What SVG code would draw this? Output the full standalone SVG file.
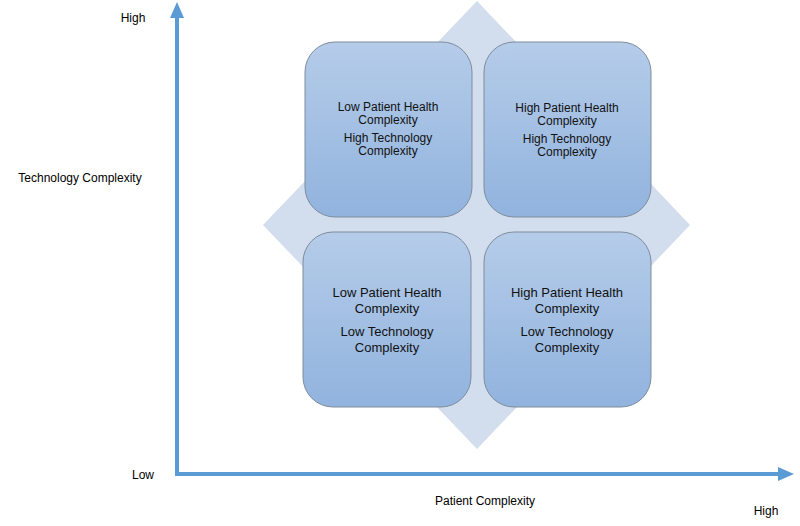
<svg xmlns="http://www.w3.org/2000/svg" width="800" height="526" viewBox="0 0 800 526">
<style>
.t{font-family:"Liberation Sans",Arial,sans-serif;fill:#000;}
.ax{font-size:12px;}
.bx{fill:url(#g);stroke:#7f8c9c;stroke-width:1;}
.s{font-size:12px;text-anchor:middle;fill:#111;}
.l{font-size:13px;text-anchor:middle;fill:#111;}
.axis{stroke:#5b9bd5;stroke-width:4;fill:none;}
</style>
<defs>
<linearGradient id="g" x1="0" y1="0" x2="0" y2="1">
<stop offset="0" stop-color="#b5cce9"/>
<stop offset="1" stop-color="#91b3de"/>
</linearGradient>
</defs>
<rect width="800" height="526" fill="#fff"/>
<polygon id="diamond" points="477,1 690,225 477,449 263,225" fill="#d2deee"/>
<g id="connectors">
<line class="axis" x1="177" y1="476" x2="177" y2="16"/>
<polygon points="170,18 177,2 184,18" fill="#5b9bd5"/>
<line class="axis" x1="175" y1="474" x2="780" y2="474"/>
<polygon points="778,467 794,474 778,481" fill="#5b9bd5"/>
</g>
<g id="q-tl">
<rect class="bx" x="305" y="42" width="167" height="175" rx="30"/>
<text class="t s" x="388" y="111">Low Patient Health</text>
<text class="t s" x="388" y="124">Complexity</text>
<text class="t s" x="388" y="142">High Technology</text>
<text class="t s" x="388" y="155">Complexity</text>
</g>
<g id="q-tr">
<rect class="bx" x="484" y="42" width="167" height="175" rx="30"/>
<text class="t s" x="567" y="112">High Patient Health</text>
<text class="t s" x="567" y="125">Complexity</text>
<text class="t s" x="567" y="143">High Technology</text>
<text class="t s" x="567" y="156">Complexity</text>
</g>
<g id="q-bl">
<rect class="bx" x="303" y="232" width="168" height="175" rx="30"/>
<text class="t l" x="387" y="297">Low Patient Health</text>
<text class="t l" x="387" y="313">Complexity</text>
<text class="t l" x="387" y="336">Low Technology</text>
<text class="t l" x="387" y="352">Complexity</text>
</g>
<g id="q-br">
<rect class="bx" x="484" y="232" width="167" height="175" rx="30"/>
<text class="t l" x="567" y="297">High Patient Health</text>
<text class="t l" x="567" y="313">Complexity</text>
<text class="t l" x="567" y="336">Low Technology</text>
<text class="t l" x="567" y="352">Complexity</text>
</g>
<g id="labels">
<text class="t ax" x="133" y="22" text-anchor="middle">High</text>
<text class="t ax" x="80" y="182" text-anchor="middle">Technology Complexity</text>
<text class="t ax" x="143" y="479" text-anchor="middle">Low</text>
<text class="t ax" x="485" y="505" text-anchor="middle">Patient Complexity</text>
<text class="t ax" x="766" y="515" text-anchor="middle">High</text>
</g>
</svg>
